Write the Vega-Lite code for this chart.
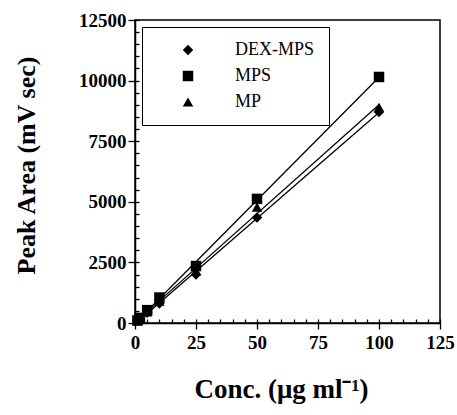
{
  "$schema": "https://vega.github.io/schema/vega-lite/v6.json",
  "width": 305,
  "height": 303,
  "autosize": {"type": "none"},
  "padding": {"left": 135, "top": 20, "right": 17, "bottom": 92},
  "background": "white",
  "config": {
    "view": {"stroke": "black", "strokeWidth": 1.5},
    "font": "Liberation Serif",
    "axis": {"grid": false, "domainColor": "black", "tickColor": "black", "labelColor": "black", "titleColor": "black", "domainWidth": 1.5, "tickWidth": 1.3,
      "labelFont": "Liberation Serif", "titleFont": "Liberation Serif", "labelFlush": false, "labelOverlap": false, "format": "d"},
    "legend": {"labelFont": "Liberation Serif"}
  },
  "data": {
    "values": [
      {"series": "DEX-MPS", "x": 1, "y": 90},
      {"series": "DEX-MPS", "x": 2, "y": 175},
      {"series": "DEX-MPS", "x": 5, "y": 420},
      {"series": "DEX-MPS", "x": 10, "y": 800},
      {"series": "DEX-MPS", "x": 25, "y": 2000},
      {"series": "DEX-MPS", "x": 50, "y": 4350},
      {"series": "DEX-MPS", "x": 100, "y": 8700},
      {"series": "MPS", "x": 1, "y": 105},
      {"series": "MPS", "x": 2, "y": 210},
      {"series": "MPS", "x": 5, "y": 530},
      {"series": "MPS", "x": 10, "y": 1050},
      {"series": "MPS", "x": 25, "y": 2350},
      {"series": "MPS", "x": 50, "y": 5120},
      {"series": "MPS", "x": 100, "y": 10150},
      {"series": "MP", "x": 1, "y": 95},
      {"series": "MP", "x": 2, "y": 185},
      {"series": "MP", "x": 5, "y": 460},
      {"series": "MP", "x": 10, "y": 900},
      {"series": "MP", "x": 25, "y": 2150},
      {"series": "MP", "x": 50, "y": 4780},
      {"series": "MP", "x": 100, "y": 8900}
    ]
  },
  "layer": [
    {
      "transform": [{"regression": "y", "on": "x", "groupby": ["series"]}],
      "mark": {"type": "line", "color": "black", "strokeWidth": 1.3},
      "encoding": {
        "x": {"field": "x", "type": "quantitative", "scale": {"domain": [0, 125], "nice": false},
          "axis": {"orient": "bottom", "values": [0, 25, 50, 75, 100, 125], "tickSize": 6, "labelFont": "Liberation Serif", "labelFontSize": 19, "labelFontWeight": "bold", "labelPadding": 4, "labelFlush": false,
            "title": "Conc. (μg ml⁻¹)", "titleFont": "Liberation Serif", "titleFontSize": 27, "titleFontWeight": "bold", "titleX": 146, "titleY": 66, "titleBaseline": "middle", "titleAnchor": "middle", "titleAlign": "center"}},
        "y": {"field": "y", "type": "quantitative", "scale": {"domain": [0, 12500], "nice": false},
          "axis": {"orient": "left", "values": [0, 2500, 5000, 7500, 10000, 12500], "tickSize": 7, "labelFont": "Liberation Serif", "labelFontSize": 19, "labelFontWeight": "bold", "labelPadding": 2, "labelFlush": false,
            "title": "Peak Area (mV sec)", "titleFont": "Liberation Serif", "titleFontSize": 26, "titleFontWeight": "bold", "titleX": -109, "titleY": 145, "titleBaseline": "middle", "titleAlign": "center", "titleAngle": -90}},
        "detail": {"field": "series", "type": "nominal"}
      }
    },
    {
      "mark": {"type": "point", "filled": true, "color": "black", "opacity": 1, "size": 110},
      "encoding": {
        "x": {"field": "x", "type": "quantitative", "scale": {"domain": [0, 125], "nice": false},
          "axis": {"orient": "bottom", "values": [0, 5, 10, 15, 20, 25, 30, 35, 40, 45, 50, 55, 60, 65, 70, 75, 80, 85, 90, 95, 100, 105, 110, 115, 120, 125], "tickSize": 4, "offset": -4, "labels": false, "domain": false, "title": null}},
        "y": {"field": "y", "type": "quantitative", "scale": {"domain": [0, 12500], "nice": false},
          "axis": {"orient": "left", "values": [0, 500, 1000, 1500, 2000, 2500, 3000, 3500, 4000, 4500, 5000, 5500, 6000, 6500, 7000, 7500, 8000, 8500, 9000, 9500, 10000, 10500, 11000, 11500, 12000, 12500], "tickSize": 4, "offset": -4, "labels": false, "domain": false, "title": null}},
        "shape": {"field": "series", "type": "nominal",
          "scale": {"domain": ["DEX-MPS", "MPS", "MP"], "range": ["diamond", "square", "triangle-up"]},
          "legend": {"orient": "none", "legendX": 7, "legendY": 7, "title": null, "strokeColor": "black", "fillColor": "white", "padding": 14,
            "labelFontSize": 18, "labelFont": "Liberation Serif", "labelColor": "black", "symbolFillColor": "black", "symbolStrokeColor": "black", "symbolSize": 110, "symbolOffset": 23, "labelOffset": 38, "rowPadding": 8, "labelLimit": 300,
            "encode": {"legend": {"update": {"strokeWidth": {"value": 1.5}}}}}}
      }
    }
  ],
  "resolve": {"axis": {"x": "independent", "y": "independent"}}
}
